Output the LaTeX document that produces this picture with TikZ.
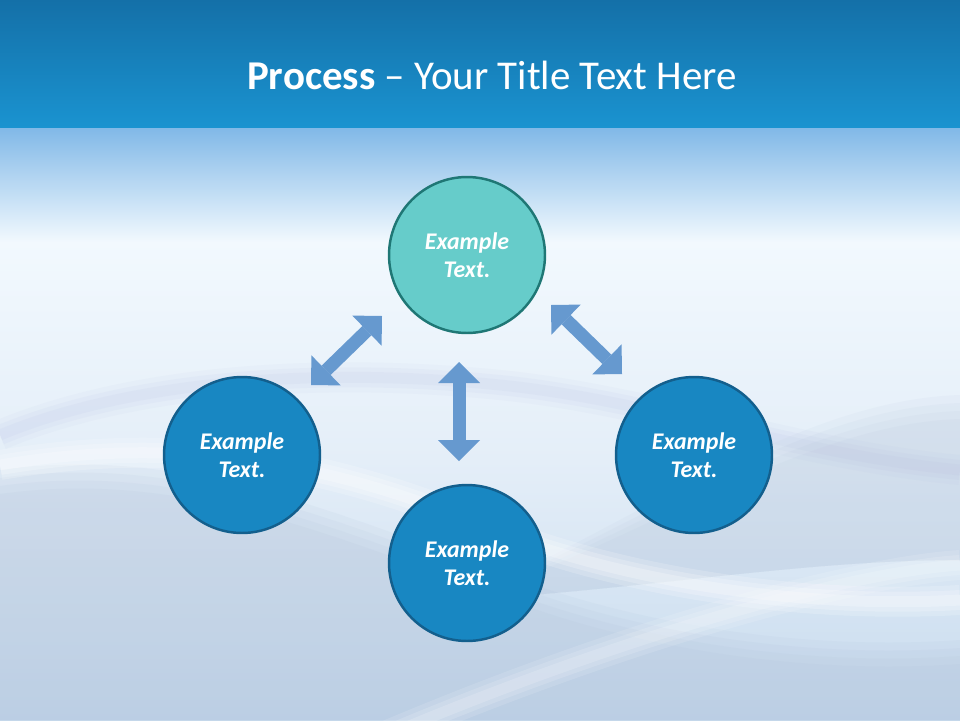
\documentclass[tikz,border=0pt]{standalone}
\usepackage{fontspec}
\setmainfont{Carlito}
\usetikzlibrary{arrows.meta,positioning}

\definecolor{bandtop}{HTML}{1470A8}
\definecolor{bandbottom}{HTML}{1A93D0}
\definecolor{glowblue}{HTML}{80B8E7}
\definecolor{paleblue}{HTML}{F2F9FE}
\definecolor{mistblue}{HTML}{E4EEF8}
\definecolor{deepmist}{HTML}{C8DBEE}
\definecolor{wavegray}{HTML}{A6B8D2}
\definecolor{wavelilac}{HTML}{A8B0DC}
\definecolor{stepblue}{HTML}{1887C2}
\definecolor{stepblueline}{HTML}{135F8D}
\definecolor{stepteal}{HTML}{66CCCA}
\definecolor{steptealline}{HTML}{1F7775}
\definecolor{arrowblue}{HTML}{6699CF}

\tikzset{
    stepnode/.style={circle, minimum size=3.12cm, inner sep=0pt, line width=1.4pt,
        text=white, align=center, font=\fontsize{13.6}{15.9}\selectfont\bfseries\itshape},
    bluestep/.style={stepnode, draw=stepblueline, fill=stepblue},
    tealstep/.style={stepnode, draw=steptealline, fill=stepteal},
    twoway/.style={draw=arrowblue, line width=0.26cm,
        {Triangle[width=0.84cm, length=0.42cm, line width=0pt]}-{Triangle[width=0.84cm, length=0.42cm, line width=0pt]}}
}

\begin{document}
\begin{tikzpicture}[x=0.02cm, y=-0.02cm]
    \useasboundingbox (0,0) rectangle (960,720);

    % background
    \shade[top color=paleblue, bottom color=mistblue] (0,240) rectangle (960,461);
    \shade[top color=mistblue, bottom color=deepmist] (0,460) rectangle (960,720);
    \shade[top color=glowblue, bottom color=paleblue] (0,127) rectangle (960,242);
    % soft waves
    \begin{scope}
        \clip (0,127) rectangle (960,720);
        \foreach \d in {0,8,16,24}{
            \fill[wavegray, opacity=0.09] (0,470+\d) .. controls (180,445+\d) and (330,510+\d) .. (520,580+\d)
                .. controls (660,630+\d) and (820,650+\d) .. (960,640+\d) -- (960,720) -- (0,720) -- cycle;
            \fill[wavegray, opacity=0.07] (460,600) .. controls (640,520+\d) and (800,400+\d) .. (960,395+\d)
                -- (960,560) .. controls (800,560) and (640,590) .. (460,600) -- cycle;
        }
        \foreach \w/\o in {0.6/0.06, 0.4/0.07, 0.22/0.08}{
            \draw[wavelilac, opacity=\o, line width=\w cm] (0,435) .. controls (120,385) and (300,365) .. (500,385)
                .. controls (650,400) and (800,455) .. (960,470);
            \draw[white, opacity=\o*3, line width=\w cm] (0,465) .. controls (150,440) and (300,450) .. (480,525)
                .. controls (600,575) and (780,610) .. (960,600);
            \draw[white, opacity=\o*2, line width=\w cm] (330,760) .. controls (600,640) and (850,572) .. (960,565);
        }
    \end{scope}
    \shade[top color=bandtop, bottom color=bandbottom] (0,0) rectangle (960,127);

    % title
    \node[text=white, font=\fontsize{23.3}{28}\selectfont] (title) at (492,75)
        {\textbf{Process} -- Your Title Text Here};

    % steps
    \node[tealstep] (top) at (467,255) {Example\\Text.};
    \node[bluestep] (left) at (242,455) {Example\\Text.};
    \node[bluestep] (right) at (694,455) {Example\\Text.};
    \node[bluestep] (bottom) at (467,563) {Example\\Text.};

    % arrows
    \coordinate (leftend) at (311,385);
    \coordinate (leftstart) at (382,316);
    \coordinate (rightstart) at (551,305);
    \coordinate (rightend) at (622,374);
    \coordinate (midstart) at (459,362);
    \coordinate (midend) at (459,461);
    \draw[twoway] (leftstart) -- (leftend);
    \draw[twoway] (rightstart) -- (rightend);
    \draw[twoway] (midstart) -- (midend);
\end{tikzpicture}
\end{document}
